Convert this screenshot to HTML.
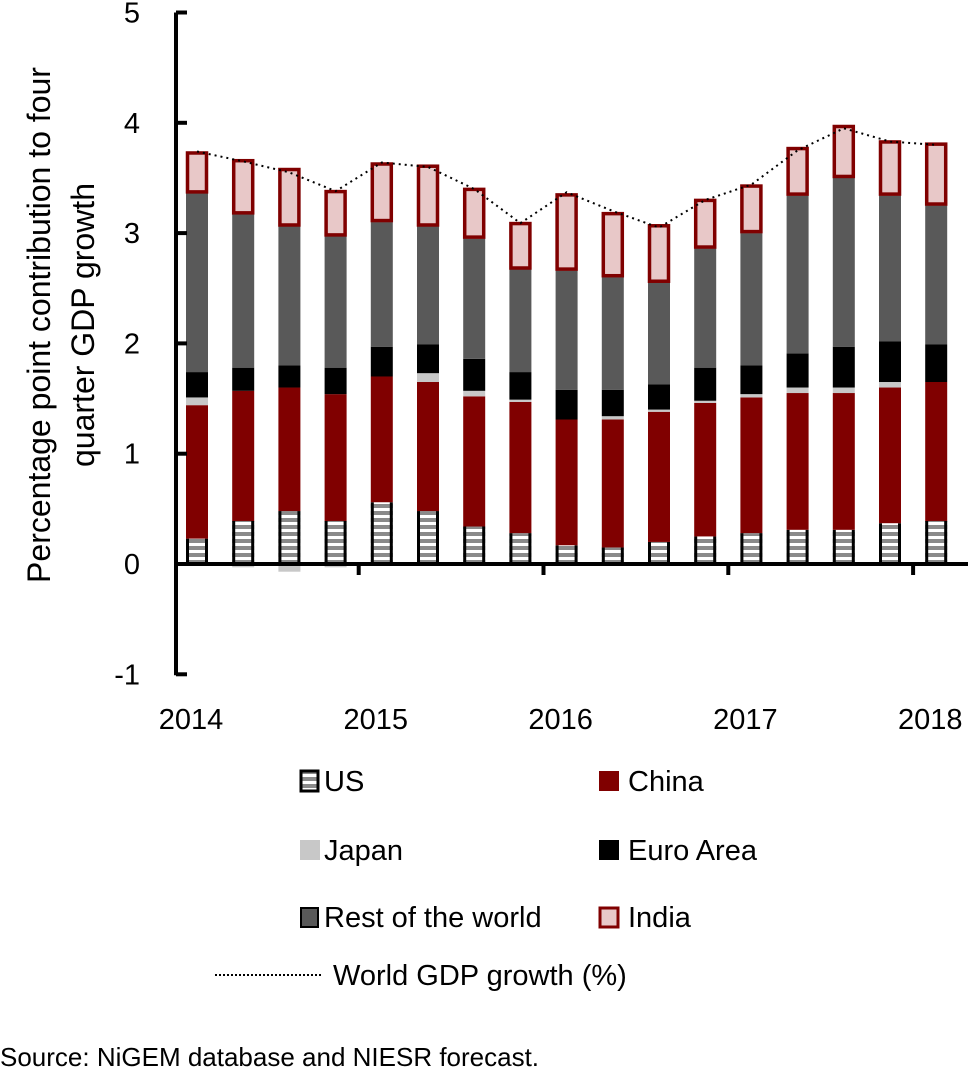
<!DOCTYPE html>
<html><head><meta charset="utf-8"><style>
html,body{margin:0;padding:0;background:#fff;}
svg{display:block;font-family:"Liberation Sans",sans-serif;}
</style></head><body>
<svg id="chart" width="970" height="1071" viewBox="0 0 970 1071">
<defs>
<pattern id="usStripes" patternUnits="userSpaceOnUse" width="7" height="7">
<rect x="0" y="0" width="7" height="4" fill="#8a8a8a"/><rect x="0" y="4" width="7" height="3" fill="#fff"/>
</pattern>
</defs>
<g id="bars"></g>
<g id="axes"></g>
<text x="0" y="0" transform="translate(50,325) rotate(-90)" text-anchor="middle" font-size="32" fill="#000">Percentage point contribution to four</text>
<text x="0" y="0" transform="translate(94,325) rotate(-90)" text-anchor="middle" font-size="32" fill="#000">quarter GDP growth</text>
<g font-size="29">
<g><rect x="301" y="771" width="17" height="20" fill="url(#usStripes)" stroke="#000" stroke-width="3"/><text x="324" y="791">US</text></g>
<g><rect x="599" y="771" width="20" height="20" fill="#800000"/><text x="628" y="791">China</text></g>
<g><rect x="300" y="840" width="20" height="20" fill="#c8c8c8"/><text x="324" y="860">Japan</text></g>
<g><rect x="599" y="840" width="20" height="20" fill="#000"/><text x="628" y="860">Euro Area</text></g>
<g><rect x="301" y="908" width="17" height="19" fill="#595959" stroke="#000" stroke-width="2"/><text x="324" y="927">Rest of the world</text></g>
<g><rect x="600" y="908" width="18" height="19" fill="#e8c8c8" stroke="#800000" stroke-width="3"/><text x="628" y="927">India</text></g>
<g><line x1="215" y1="975" x2="322" y2="975" stroke="#000" stroke-width="2" stroke-dasharray="2,2"/><text x="333" y="985">World GDP growth (%)</text></g>
</g>
<text x="0" y="1066" font-size="26" fill="#000">Source: NiGEM database and NIESR forecast.</text>
</svg>
<script>
const quarters = ["2014Q1","2014Q2","2014Q3","2014Q4","2015Q1","2015Q2","2015Q3","2015Q4","2016Q1","2016Q2","2016Q3","2016Q4","2017Q1","2017Q2","2017Q3","2017Q4","2018Q1"];
const usVals = [0.23,0.39,0.48,0.39,0.56,0.48,0.34,0.28,0.17,0.15,0.20,0.25,0.28,0.31,0.31,0.37,0.39];
const chinaVals = [1.21,1.18,1.12,1.15,1.14,1.17,1.18,1.19,1.14,1.16,1.18,1.21,1.23,1.24,1.24,1.23,1.26];
const japanVals = [0.07,-0.03,-0.07,-0.03,0,0.08,0.05,0.02,0,0.03,0.02,0.02,0.03,0.05,0.05,0.05,0];
const euroVals = [0.23,0.21,0.20,0.24,0.27,0.26,0.29,0.25,0.27,0.24,0.23,0.30,0.26,0.31,0.37,0.37,0.34];
const rowVals = [1.62,1.39,1.26,1.19,1.13,1.07,1.09,0.93,1.08,1.02,0.92,1.08,1.20,1.43,1.53,1.32,1.26];
const indiaVals = [0.38,0.50,0.53,0.42,0.54,0.56,0.46,0.43,0.70,0.59,0.53,0.45,0.44,0.44,0.48,0.50,0.57];
const worldVals = [3.74,3.65,3.55,3.38,3.64,3.60,3.40,3.09,3.37,3.20,3.05,3.30,3.44,3.75,3.95,3.83,3.80];
const yTicks = [-1,0,1,2,3,4,5];
const yearLabels = ["2014","2015","2016","2017","2018"];

const NS="http://www.w3.org/2000/svg";
const y0=564, pxPerUnit=110.3;
function yScale(v){return y0 - v*pxPerUnit;}
function xScale(i){return 197 + 46.2*i;}
const barW=22;
function mk(tag,attrs,parent){const e=document.createElementNS(NS,tag);for(const k in attrs)e.setAttribute(k,attrs[k]);parent.appendChild(e);return e;}
const barsG=document.getElementById('bars');
const axesG=document.getElementById('axes');

quarters.forEach((q,i)=>{
  const cx=xScale(i), x=cx-barW/2;
  let pos=0, neg=0;
  const segs=[
    {v:usVals[i],n:'us',fill:'url(#usStripes)'},
    {v:chinaVals[i],n:'china',fill:'#800000'},
    {v:japanVals[i],n:'japan',fill:'#c8c8c8'},
    {v:euroVals[i],n:'euro-area',fill:'#000'},
    {v:rowVals[i],n:'rest-of-world',fill:'#595959'},
    {v:indiaVals[i],n:'india',fill:'#e8c8c8'}
  ];
  segs.forEach(s=>{
    if(s.v===0)return;
    let a,b;
    if(s.v>0){a=pos;b=pos+s.v;pos=b;}else{a=neg+s.v;b=neg;neg=a;}
    const top=yScale(b), h=yScale(a)-yScale(b);
    let r;
    if(s.n==='india'){
      r=mk('rect',{x:x+1.5,y:top+1.5,width:barW-3,height:Math.max(h-3,0),fill:s.fill,stroke:'#800000','stroke-width':3.5},barsG);
    } else {
      r=mk('rect',{x:x,y:top,width:barW,height:h,fill:s.fill},barsG);
      if(s.n==='us'){
        mk('rect',{x:x,y:top,width:3,height:h,fill:'#000'},barsG);
        mk('rect',{x:x+barW-3,y:top,width:3,height:h,fill:'#000'},barsG);
      }
    }
    
    
  });
});

let d='';
worldVals.forEach((v,i)=>{d+=(i?'L':'M')+xScale(i)+','+yScale(v);});
const line=mk('path',{d:d,fill:'none',stroke:'#000','stroke-width':2,'stroke-dasharray':'2,4'},barsG);



const yAxis=mk('line',{x1:176,y1:yScale(5),x2:176,y2:yScale(-1)+1,stroke:'#000','stroke-width':4},axesG);


const xAxis=mk('line',{x1:174,y1:y0,x2:968,y2:y0,stroke:'#000','stroke-width':4},axesG);


yTicks.forEach(t=>{
  const tk=mk('line',{x1:176,y1:yScale(t),x2:187,y2:yScale(t),stroke:'#000','stroke-width':4},axesG);
  
  
  const lb=mk('text',{x:140,y:yScale(t)+10,'text-anchor':'end','font-size':29},axesG);
  lb.textContent=String(t);
  
  
});
yearLabels.forEach((yl,k)=>{
  const cx=xScale(k*4)-6;
  const lb=mk('text',{x:cx,y:729,'text-anchor':'middle','font-size':29},axesG);
  lb.textContent=yl;
  
  
  if(k<yearLabels.length-1){
    const tx=(xScale(k*4+3)+xScale(k*4+4))/2;
    const tk=mk('line',{x1:tx,y1:y0,x2:tx,y2:y0+11,stroke:'#000','stroke-width':4},axesG);
    
    
  }
});
</script>
</body></html>
